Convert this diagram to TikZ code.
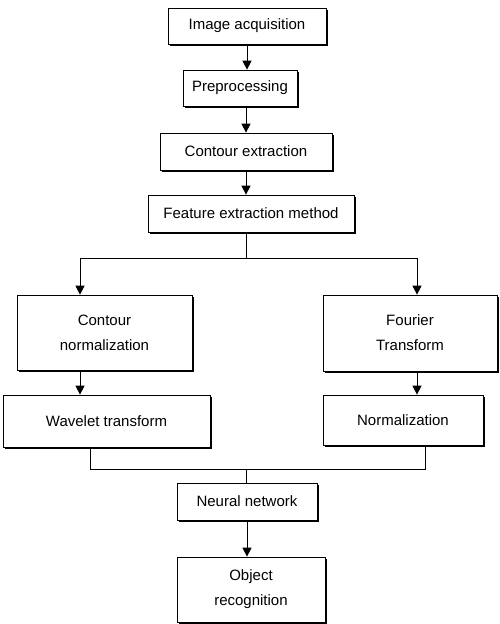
\documentclass[tikz,border=0pt]{standalone}
\usepackage{fontspec}
\setmainfont{Liberation Sans}
\usepackage{tikz}
\usetikzlibrary{arrows.meta}
\usetikzlibrary{shadows}
\usetikzlibrary{positioning}

\tikzset{
	stage/.style={draw,line width=0.7pt,fill=white,align=center,inner sep=0pt,
		font=\fontsize{15}{25}\selectfont,
		drop shadow={shadow xshift=1.8pt,shadow yshift=-1.8pt,opacity=1,fill=black}},
	link/.style={line width=0.9pt},
	arr/.style={link,-{Triangle[length=9pt,width=9pt]}}
}

\begin{document}
\begin{tikzpicture}[x=1pt,y=-1pt]
	\useasboundingbox (0,0) rectangle (500,624);
	
	\node [stage,minimum width=158pt,minimum height=36pt] (acq) at (247,26) {Image acquisition};
	\node [stage,minimum width=114pt,minimum height=36pt] (prep) at (240,88) {Preprocessing};
	\node [stage,minimum width=172pt,minimum height=37pt] (contour) at (246,151.5) {Contour extraction};
	\node [stage,minimum width=206pt,minimum height=37pt] (feature) at (251,213.5) {Feature extraction method};
	
	\node [stage,minimum width=175pt,minimum height=75pt] (cnorm) at (104.5,332.5) {Contour\\normalization};
	\node [stage,minimum width=174pt,minimum height=76pt] (fourier) at (410,333) {Fourier\\Transform};
	\node [stage,minimum width=207pt,minimum height=52pt] (wavelet) at (106.5,421) {Wavelet transform};
	\node [stage,minimum width=160pt,minimum height=50pt] (norm) at (403,420) {Normalization};
	
	\node [stage,minimum width=140pt,minimum height=37pt] (neural) at (247,501.5) {Neural network};
	\node [stage,minimum width=148pt,minimum height=65pt] (object) at (251,589.5) {Object\\recognition};
	
	% main column
	\draw[arr] (acq.south) -- (acq.south |- prep.north);
	\draw[arr] (contour.north |- prep.south) -- (contour.north);
	\draw[arr] (contour.south) -- (contour.south |- feature.north);
	
	% split into the two branches
	\coordinate [] (split) at (246,258);
	\coordinate [] (lsplit) at (80,258);
	\coordinate [] (rsplit) at (417,258);
	\draw[link] (split |- feature.south) -- (split);
	\draw[arr] (split) -- (lsplit) -- (lsplit |- cnorm.north);
	\draw[arr] (split) -- (rsplit) -- (rsplit |- fourier.north);
	\draw[arr] (lsplit |- cnorm.south) -- (lsplit |- wavelet.north);
	\draw[arr] (rsplit |- fourier.south) -- (rsplit |- norm.north);
	
	% join again
	\coordinate [] (merge) at (246,469);
	\coordinate [] (lmerge) at (90,469);
	\coordinate [] (rmerge) at (425,469);
	\draw[link] (lmerge |- wavelet.south) -- (lmerge) -- (rmerge) -- (rmerge |- norm.south);
	\draw[link] (merge) -- (merge |- neural.north);
	
	\draw[arr] (neural.south) -- (neural.south |- object.north);
	
\end{tikzpicture}
\end{document}
